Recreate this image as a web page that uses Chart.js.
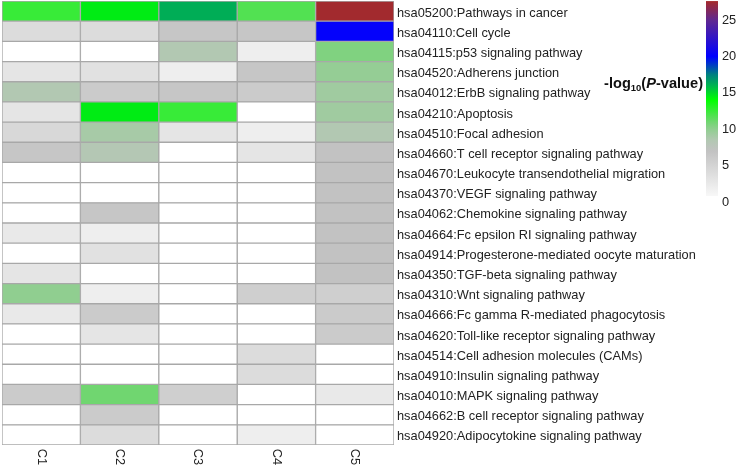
<!DOCTYPE html>
<html>
<head>
<meta charset="utf-8">
<script src="https://cdn.jsdelivr.net/npm/chart.js@4.4.1/dist/chart.umd.min.js"></script>
<style>
  html, body { margin: 0; padding: 0; background: #ffffff; }
  #wrap { width: 740px; height: 465px; position: relative; }
</style>
</head>
<body>
<div id="wrap"><canvas id="c"></canvas></div>
<script>
const pathways = [
  'hsa05200:Pathways in cancer',
  'hsa04110:Cell cycle',
  'hsa04115:p53 signaling pathway',
  'hsa04520:Adherens junction',
  'hsa04012:ErbB signaling pathway',
  'hsa04210:Apoptosis',
  'hsa04510:Focal adhesion',
  'hsa04660:T cell receptor signaling pathway',
  'hsa04670:Leukocyte transendothelial migration',
  'hsa04370:VEGF signaling pathway',
  'hsa04062:Chemokine signaling pathway',
  'hsa04664:Fc epsilon RI signaling pathway',
  'hsa04914:Progesterone-mediated oocyte maturation',
  'hsa04350:TGF-beta signaling pathway',
  'hsa04310:Wnt signaling pathway',
  'hsa04666:Fc gamma R-mediated phagocytosis',
  'hsa04620:Toll-like receptor signaling pathway',
  'hsa04514:Cell adhesion molecules (CAMs)',
  'hsa04910:Insulin signaling pathway',
  'hsa04010:MAPK signaling pathway',
  'hsa04662:B cell receptor signaling pathway',
  'hsa04920:Adipocytokine signaling pathway'
];
const clusters = ['C1', 'C2', 'C3', 'C4', 'C5'];

const valuesC1 = [12.5, 4, 0, 3, 8.5, 3, 4.5, 6.5, 0, 0, 0, 2.5, 0, 3, 10, 2.5, 0, 0, 0, 6, 0, 0];
const valuesC2 = [14.5, 4, 0, 3.5, 6, 14.5, 9, 8.3, 0, 0, 6.5, 2, 3.5, 0, 2, 6, 3, 0, 0, 11, 6, 4];
const valuesC3 = [16.2, 6.5, 8.5, 2, 6.5, 12.5, 3, 0, 0, 0, 0, 0, 0, 0, 0, 0, 0, 0, 0, 5.5, 0, 0];
const valuesC4 = [11.8, 6.5, 2, 6.5, 6, 0, 2, 3, 0, 0, 0, 0, 0, 0, 5.5, 0, 0, 4, 4, 0, 0, 2];
const valuesC5 = [27.5, 20.2, 10.5, 9.8, 9.3, 9.3, 8.5, 7, 7, 7, 7, 7, 7, 7, 5.5, 6, 6, 0, 0, 2.5, 0, 0];
const columnValues = [valuesC1, valuesC2, valuesC3, valuesC4, valuesC5];

const colorbarTicks = [0, 5, 10, 15, 20, 25];
const colorbarMax = 27.6;
const colorStops = [
  [0, '#ffffff'], [7, '#c2c2c2'], [8.5, '#b2c8b2'], [10, '#90ce90'], [11, '#70d670'],
  [14, '#00ff00'], [16, '#00b450'], [17.5, '#008080'], [20, '#0000ff'], [25, '#602890'],
  [27.6, '#a52a2a']
];

function hexToRgb(h) {
  return [parseInt(h.slice(1, 3), 16), parseInt(h.slice(3, 5), 16), parseInt(h.slice(5, 7), 16)];
}
function colorFor(v) {
  if (v <= colorStops[0][0]) return colorStops[0][1];
  for (let i = 1; i < colorStops.length; i++) {
    if (v <= colorStops[i][0]) {
      const [v0, c0] = colorStops[i - 1];
      const [v1, c1] = colorStops[i];
      const t = (v - v0) / (v1 - v0);
      const a = hexToRgb(c0), b = hexToRgb(c1);
      const r = a.map((x, k) => Math.round(x + (b[k] - x) * t));
      return 'rgb(' + r.join(',') + ')';
    }
  }
  return colorStops[colorStops.length - 1][1];
}

const datasets = clusters.map((name, ci) => ({
  label: name,
  data: pathways.map(() => [ci, ci + 1]),
  backgroundColor: columnValues[ci].map(colorFor),
  borderColor: '#a8a8a8',
  borderWidth: 1,
  borderSkipped: false,
  grouped: false,
  barPercentage: 1,
  categoryPercentage: 1
}));

const FONT = '"Liberation Sans", Arial, sans-serif';

const labelShiftPlugin = {
  id: 'labelShift',
  beforeDraw(chart) {
    const s = chart.scales.y;
    try {
      const items = s._computeLabelItems(chart.chartArea);
      items.forEach(it => { it.textOffset = (it.textOffset || 0) + 2; });
      s._labelItems = items;
    } catch (e) { /* keep default */ }
  }
};

const colorbarPlugin = {
  id: 'colorbar',
  afterDraw(chart) {
    const ctx = chart.ctx;
    const x0 = 706, w = 12, yZero = 202, pxPerUnit = 7.28;
    const yTop = yZero - colorbarMax * pxPerUnit;
    const grad = ctx.createLinearGradient(0, yZero, 0, yTop);
    colorStops.forEach(([v, c]) => grad.addColorStop(Math.min(1, v / colorbarMax), c));
    ctx.save();
    ctx.fillStyle = grad;
    ctx.fillRect(x0, yTop, w, yZero - yTop - 6);
    ctx.fillStyle = '#222222';
    ctx.font = '12.8px ' + FONT;
    ctx.textAlign = 'left';
    ctx.textBaseline = 'middle';
    colorbarTicks.forEach(t => ctx.fillText(String(t), 722, yZero - t * pxPerUnit));

    // title: -log10(P-value)
    const parts = [
      { t: '-log', f: 'bold 14.6px ' + FONT, dy: 0 },
      { t: '10', f: 'bold 9.5px ' + FONT, dy: 3 },
      { t: '(', f: 'bold 14.6px ' + FONT, dy: 0 },
      { t: 'P', f: 'italic bold 14.6px ' + FONT, dy: 0 },
      { t: '-value)', f: 'bold 14.6px ' + FONT, dy: 0 }
    ];
    let total = 0;
    parts.forEach(p => { ctx.font = p.f; p.w = ctx.measureText(p.t).width; total += p.w; });
    let x = 703 - total;
    ctx.fillStyle = '#111111';
    ctx.textBaseline = 'alphabetic';
    parts.forEach(p => { ctx.font = p.f; ctx.fillText(p.t, x, 88 + p.dy); x += p.w; });
    ctx.restore();
  }
};

new Chart(document.getElementById('c'), {
  type: 'bar',
  data: { labels: pathways, datasets },
  options: {
    indexAxis: 'y',
    responsive: true,
    maintainAspectRatio: false,
    animation: false,
    layout: { padding: { left: 2, top: 1, right: 0, bottom: 0 } },
    plugins: { legend: { display: false }, tooltip: { enabled: false } },
    scales: {
      x: {
        type: 'linear',
        min: 0,
        max: 5,
        grid: { display: false, drawTicks: false },
        border: { display: false },
        afterBuildTicks(scale) {
          scale.ticks = clusters.map((_, i) => ({ value: i + 0.5 }));
        },
        afterFit(scale) {
          scale.height = 20;
          scale.paddingLeft = 0; scale.paddingRight = 0;
          scale.paddingTop = 0; scale.paddingBottom = 0;
        },
        ticks: {
          autoSkip: false,
          minRotation: -90,
          maxRotation: -90,
          padding: 20,
          color: '#222222',
          font: { family: FONT, size: 12.8 },
          callback: (v, i) => clusters[i]
        }
      },
      y: {
        type: 'category',
        position: 'right',
        grid: { display: false, drawTicks: false },
        border: { display: false },
        afterFit(scale) {
          scale.width = 346;
          scale.paddingLeft = 0; scale.paddingRight = 0;
          scale.paddingTop = 0; scale.paddingBottom = 0;
        },
        ticks: {
          autoSkip: false,
          padding: 3,
          color: '#222222',
          font: { family: FONT, size: 12.8 }
        }
      }
    }
  },
  plugins: [labelShiftPlugin, colorbarPlugin]
});
</script>
</body>
</html>
